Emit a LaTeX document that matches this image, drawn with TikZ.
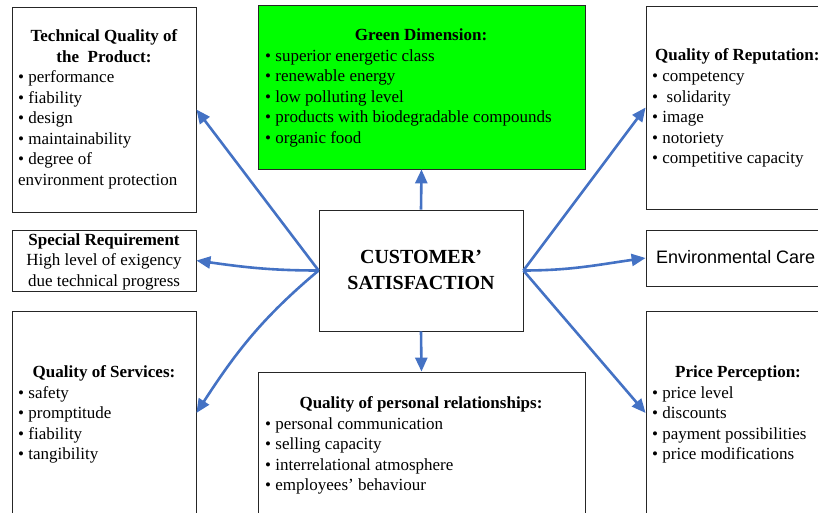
\documentclass[tikz,border=0pt]{standalone}
\usepackage{fontspec}
\setmainfont{Liberation Serif}
\newfontfamily\arialfont{Liberation Sans}
\usetikzlibrary{arrows.meta}
\definecolor{arrowblue}{RGB}{68,114,196}
\definecolor{boxgreen}{RGB}{0,255,0}
\begin{document}
\begin{tikzpicture}[x=1pt,y=-1pt,
  box/.style={draw=black!85, line width=0.8pt, rectangle, inner sep=0pt},
  titletext/.style={font=\fontsize{17}{20.5}\selectfont\bfseries, anchor=base, inner sep=0pt},
  itemtext/.style={font=\fontsize{17}{20.5}\selectfont, anchor=base west, inner sep=0pt},
  conn/.style={draw=arrowblue, line width=2.6pt, -{Triangle[length=14pt,width=12pt]}}
]
\useasboundingbox (0,0) rectangle (818,513);
\clip (0,0) rectangle (818,513);

% boxes
\node[box, minimum width=184pt, minimum height=205pt] (tq) at (104,109.5) {};
\node[box, fill=boxgreen, minimum width=327pt, minimum height=164pt] (green) at (421.5,87) {};
\node[box, minimum width=184pt, minimum height=203pt] (rep) at (738,107.5) {};
\node[box, minimum width=184pt, minimum height=61pt] (spec) at (104,260.5) {};
\node[box, minimum width=204pt, minimum height=121pt] (cust) at (421,270.5) {};
\node[box, minimum width=184pt, minimum height=56pt] (env) at (738,258) {};
\node[box, minimum width=184pt, minimum height=204pt] (serv) at (104,413) {};
\node[box, minimum width=327pt, minimum height=144pt] (pers) at (421.5,444) {};
\node[box, minimum width=184pt, minimum height=204pt] (price) at (738,413) {};

% technical quality
\node[titletext] (tqt1) at (104,42) {Technical Quality of};
\node[titletext] (tqt2) at (104,62.5) {the\ \ Product:};
\node[itemtext] (tqi) at (18,83) {\begin{tabular}[t]{@{}l@{}}
\textbullet\ performance\\
\textbullet\ fiability\\
\textbullet\ design\\
\textbullet\ maintainability\\
\textbullet\ degree of\\
environment protection\end{tabular}};

% green dimension
\node[titletext] (gt) at (421,40.5) {Green Dimension:};
\node[itemtext] (gi) at (265,61.5) {\begin{tabular}[t]{@{}l@{}}
\textbullet\ superior energetic class\\
\textbullet\ renewable energy\\
\textbullet\ low polluting level\\
\textbullet\ products with biodegradable compounds\\
\textbullet\ organic food\end{tabular}};

% reputation
\node[titletext, anchor=base west] (rt) at (655,61) {Quality of Reputation:};
\node[itemtext] (ri) at (652,82) {\begin{tabular}[t]{@{}l@{}}
\textbullet\ competency\\
\textbullet\ \ solidarity\\
\textbullet\ image\\
\textbullet\ notoriety\\
\textbullet\ competitive capacity\end{tabular}};

% special requirement
\node[itemtext, anchor=base] (st) at (104,245) {\begin{tabular}[t]{@{}c@{}}
\textbf{Special Requirement}\\
High level of exigency\\
due technical progress\end{tabular}};

% customer satisfaction
\node[anchor=base, inner sep=0pt, font=\fontsize{20}{26}\selectfont\bfseries] (ct) at (421,263) {\begin{tabular}[t]{@{}c@{}}
CUSTOMER’\\
SATISFACTION\end{tabular}};

% environmental care
\node[anchor=base west, inner sep=0pt, font=\arialfont\fontsize{18}{22}\selectfont] (et) at (656,263) {Environmental Care};

% services
\node[titletext] (svt) at (104,377) {Quality of Services:};
\node[itemtext] (svi) at (18,398) {\begin{tabular}[t]{@{}l@{}}
\textbullet\ safety\\
\textbullet\ promptitude\\
\textbullet\ fiability\\
\textbullet\ tangibility\end{tabular}};

% personal relationships
\node[titletext] (pt) at (421,408.5) {Quality of personal relationships:};
\node[itemtext] (pi) at (265,429) {\begin{tabular}[t]{@{}l@{}}
\textbullet\ personal communication\\
\textbullet\ selling capacity\\
\textbullet\ interrelational atmosphere\\
\textbullet\ employees’ behaviour\end{tabular}};

% price
\node[titletext] (prt) at (738,377) {Price Perception:};
\node[itemtext] (pri) at (652,398) {\begin{tabular}[t]{@{}l@{}}
\textbullet\ price level\\
\textbullet\ discounts\\
\textbullet\ payment possibilities\\
\textbullet\ price modifications\end{tabular}};

% connectors
\draw[conn] (cust.west) -- (tq.east);
\draw[conn] (cust.west) to[out=180,in=-8] (spec.east);
\draw[conn] (cust.west) to[out=-140,in=57] (serv.east);
\draw[conn] (cust.north) -- (green.south);
\draw[conn] (cust.south) -- (pers.north);
\draw[conn] (cust.east) -- (rep.west);
\draw[conn] (cust.east) to[out=0,in=-172] (env.west);
\draw[conn] (cust.east) -- (price.west);
\end{tikzpicture}
\end{document}
